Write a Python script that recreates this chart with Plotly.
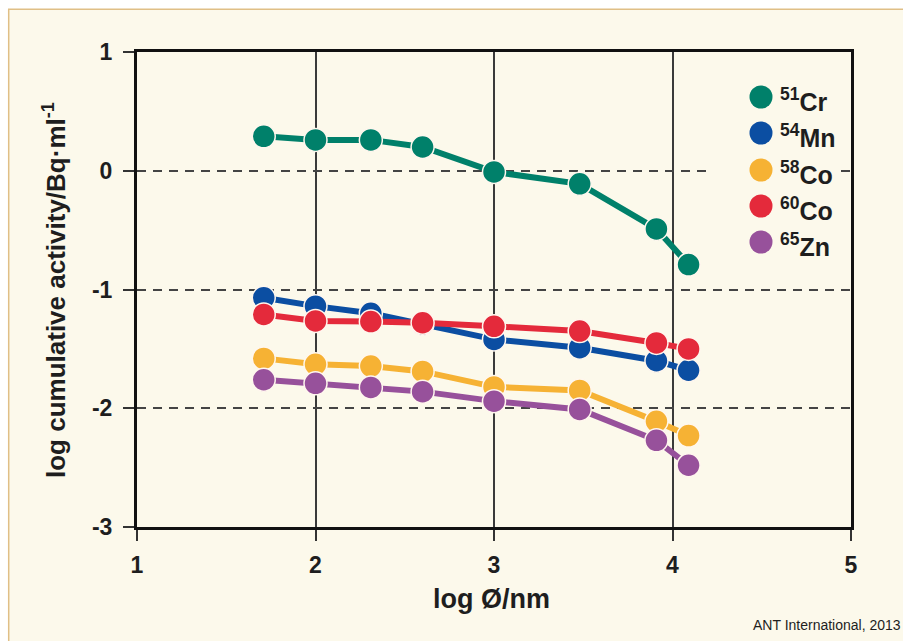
import plotly.graph_objects as go

# ---- data ----
log_d = [1.71, 2.0, 2.31, 2.6, 3.0, 3.48, 3.91, 4.09]
cr51 = [0.29, 0.26, 0.26, 0.20, -0.01, -0.11, -0.49, -0.79]
mn54 = [-1.07, -1.14, -1.20, -1.29, -1.42, -1.49, -1.60, -1.68]
co58 = [-1.58, -1.63, -1.645, -1.69, -1.82, -1.85, -2.11, -2.23]
co60 = [-1.21, -1.265, -1.27, -1.28, -1.31, -1.35, -1.45, -1.50]
zn65 = [-1.76, -1.79, -1.825, -1.86, -1.94, -2.01, -2.27, -2.48]

series_names = ["<sup>51</sup>Cr", "<sup>54</sup>Mn", "<sup>58</sup>Co", "<sup>60</sup>Co", "<sup>65</sup>Zn"]
series_values = [cr51, mn54, co58, co60, zn65]
series_colors = ["#00806A", "#0B4EA2", "#F6B234", "#E42A3B", "#97519B"]

x_tickvals = [1, 2, 3, 4, 5]
x_ticktext = ["1", "2", "3", "4", "5"]
y_tickvals = [1, 0, -1, -2, -3]
y_ticktext = ["1", "0", "-1", "-2", "-3"]

x_title = "log Ø/nm"
y_title = "log cumulative activity/Bq·ml<sup>-1</sup>"
credit = "ANT International, 2013"

# ---- layout geometry (window pixel coords) ----
W, H = 903, 641
PL, PR, PT, PB = 137, 851, 52, 527          # plot area in window pixels
ML, MR, MT, MB = PL, W - PR, PT, H - PB
PW, PH = W - ML - MR, H - MT - MB

def px(x):
    return (x - ML) / PW

def py(y):
    return (H - MB - y) / PH

CREAM = "#FCF9EB"
FONT = "Liberation Sans, Arial, sans-serif"
INK = "#1E1E1E"

fig = go.Figure()
for name, vals, col in zip(series_names, series_values, series_colors):
    fig.add_trace(go.Scatter(
        x=log_d, y=vals, name=name, mode="lines+markers",
        line=dict(color=col, width=6),
        marker=dict(color=col, size=23, line=dict(color="#FFF7EE", width=1.5)),
        showlegend=False,
    ))

shapes = [
    # cream panel with tan border
    dict(type="rect", xref="paper", yref="paper",
         x0=px(8.7), x1=px(W + 20), y0=py(H + 20), y1=py(9.2),
         fillcolor=CREAM, line=dict(color="#E0BF86", width=1.5), layer="below"),
    # legend background (hides dashed grid line)
    dict(type="rect", xref="paper", yref="paper",
         x0=px(712), x1=px(838), y0=py(262), y1=py(75),
         fillcolor=CREAM, line=dict(width=0), layer="above"),
]
annotations = []
leg_y = [97, 133, 170, 206, 242]
for name, col, yy in zip(series_names, series_colors, leg_y):
    shapes.append(dict(type="circle", xref="paper", yref="paper",
                       xsizemode="pixel", ysizemode="pixel",
                       xanchor=px(761), yanchor=py(yy),
                       x0=-11.5, x1=11.5, y0=-11.5, y1=11.5,
                       fillcolor=col, line=dict(width=0), layer="above"))
    annotations.append(dict(xref="paper", yref="paper", x=px(778), y=py(yy),
                            xanchor="left", yanchor="middle", yshift=-3,
                            text=name, showarrow=False,
                            font=dict(family=FONT, size=25, color=INK, weight="bold")))

annotations.append(dict(xref="paper", yref="paper", x=px(491), y=py(599),
                        xanchor="center", yanchor="middle",
                        text=x_title, showarrow=False,
                        font=dict(family=FONT, size=27, color=INK, weight="bold")))
annotations.append(dict(xref="paper", yref="paper", x=px(54), y=py(290),
                        xanchor="center", yanchor="middle", textangle=-90,
                        text=y_title, showarrow=False,
                        font=dict(family=FONT, size=26, color=INK, weight="bold")))
annotations.append(dict(xref="paper", yref="paper", x=px(W), y=py(625),
                        xanchor="right", yanchor="middle",
                        text=credit, showarrow=False,
                        font=dict(family=FONT, size=14, color=INK)))

fig.update_layout(
    width=W, height=H,
    margin=dict(l=ML, r=MR, t=MT, b=MB, pad=0),
    paper_bgcolor="white", plot_bgcolor="rgba(0,0,0,0)",
    shapes=shapes, annotations=annotations, showlegend=False,
    font=dict(family=FONT, color=INK),
)
fig.update_xaxes(
    range=[1, 5], tickvals=x_tickvals, ticktext=x_ticktext,
    tickfont=dict(size=23, family=FONT, color=INK, weight="bold"),
    ticks="outside", ticklen=11, tickwidth=1.5, tickcolor="#333",
    showgrid=True, gridcolor="#3A3A3A", gridwidth=1.5,
    showline=True, linecolor="#111", linewidth=3, mirror=True,
    zeroline=False, fixedrange=True, ticklabelstandoff=4,
)
fig.update_yaxes(
    range=[-3, 1], tickvals=y_tickvals, ticktext=y_ticktext,
    tickfont=dict(size=23, family=FONT, color=INK, weight="bold"),
    ticks="outside", ticklen=11, tickwidth=1.5, tickcolor="#333",
    showgrid=True, gridcolor="#444", gridwidth=1.5, griddash="9px,7px",
    showline=True, linecolor="#111", linewidth=3, mirror=True,
    zeroline=False, fixedrange=True, ticklabelstandoff=6,
)

fig.write_html(
    "out.html",
    config={"displayModeBar": False},
    post_script="document.body.style.margin='0';document.body.style.overflow='hidden';",
)
